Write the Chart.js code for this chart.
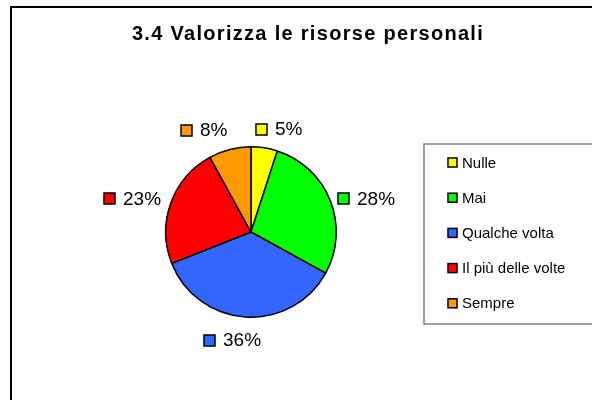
<!DOCTYPE html>
<html>
<head>
<meta charset="utf-8">
<title>3.4 Valorizza le risorse personali</title>
<script src="https://cdn.jsdelivr.net/npm/chart.js@4/dist/chart.umd.min.js"></script>
<style>
  html, body { margin: 0; padding: 0; background: #fff; }
  canvas { display: block; }
</style>
</head>
<body>
<canvas id="myChart" width="592" height="400"></canvas>
<script>
const chartTitle = '3.4 Valorizza le risorse personali';
const categories = ['Nulle', 'Mai', 'Qualche volta', 'Il più delle volte', 'Sempre'];
const percentages = [5, 28, 36, 23, 8];
const sliceColors = ['#FFFF00', '#00FF00', '#3366FF', '#FF0000', '#FF9900'];

// hand placed label shifts (like the original sheet), applied after the geometric placement
const labelShift = [[9, 0], [-1, 5], [-11, 4], [0, 2], [-17, -1]];

const labelFont = '19px "Liberation Sans", Arial, sans-serif';
const legendFont = '15px "Liberation Sans", Arial, sans-serif';

const sheetPlugin = {
  id: 'sheet',
  beforeDraw(chart) {
    const ctx = chart.ctx;
    ctx.save();
    ctx.fillStyle = '#fff';
    ctx.fillRect(0, 0, chart.width, chart.height);
    // outer frame of the chart object (runs off the page right and bottom)
    ctx.strokeStyle = '#000';
    ctx.lineWidth = 2;
    ctx.strokeRect(11, 7, chart.width + 20, chart.height + 20);
    // title
    ctx.fillStyle = '#000';
    ctx.font = 'bold 20px "Liberation Sans", Arial, sans-serif';
    ctx.textAlign = 'center';
    ctx.textBaseline = 'alphabetic';
    ctx.letterSpacing = '1.3px';
    ctx.fillText(chartTitle, 308, 40);
    ctx.restore();
  },
  afterDraw(chart) {
    const ctx = chart.ctx;
    const meta = chart.getDatasetMeta(0);
    ctx.save();

    // percentage labels around the pie
    ctx.font = labelFont;
    ctx.textBaseline = 'middle';
    ctx.textAlign = 'left';
    meta.data.forEach((arc, i) => {
      const p = arc.getProps(['x', 'y', 'startAngle', 'endAngle', 'outerRadius']);
      const mid = (p.startAngle + p.endAngle) / 2;
      const dx = Math.cos(mid), dy = Math.sin(mid);
      const text = chart.data.datasets[0].data[i] + '%';
      const sq = 11, gap = 8;
      const w = sq + gap + ctx.measureText(text).width;
      const h = 14;
      const ax = p.x + dx * (p.outerRadius + 12);
      const ay = p.y + dy * (p.outerRadius + 12);
      const cx = ax + dx * w / 2 + labelShift[i][0];
      const cy = ay + dy * h / 2 + labelShift[i][1];
      const left = Math.round(cx - w / 2);
      ctx.fillStyle = sliceColors[i];
      ctx.fillRect(left, Math.round(cy - sq / 2), sq, sq);
      ctx.strokeStyle = '#000';
      ctx.lineWidth = 1.5;
      ctx.strokeRect(left, Math.round(cy - sq / 2), sq, sq);
      ctx.fillStyle = '#000';
      ctx.fillText(text, left + sq + gap, cy + 1);
    });

    // legend box
    ctx.strokeStyle = '#808080';
    ctx.lineWidth = 1.5;
    ctx.strokeRect(424, 144, 200, 180);
    ctx.font = legendFont;
    chart.data.labels.forEach((lab, i) => {
      const y = 162.5 + i * 35.2;
      ctx.fillStyle = sliceColors[i];
      ctx.fillRect(448, y - 4.5, 9, 9);
      ctx.strokeStyle = '#000';
      ctx.lineWidth = 1.5;
      ctx.strokeRect(448, y - 4.5, 9, 9);
      ctx.fillStyle = '#000';
      ctx.fillText(lab, 462, y + 1);
    });
    ctx.restore();
  }
};

const chartCanvas = document.getElementById('myChart');
const myChart = new Chart(chartCanvas.getContext('2d'), {
  type: 'pie',
  data: {
    labels: categories,
    datasets: [{
      data: percentages,
      backgroundColor: sliceColors,
      borderColor: '#000',
      borderWidth: 1.5
    }]
  },
  options: {
    responsive: false,
    animation: false,
    layout: { padding: { left: 165, right: 255, top: 146, bottom: 82 } },
    plugins: {
      legend: { display: false },
      tooltip: { enabled: false }
    }
  },
  plugins: [sheetPlugin]
});
</script>
</body>
</html>
